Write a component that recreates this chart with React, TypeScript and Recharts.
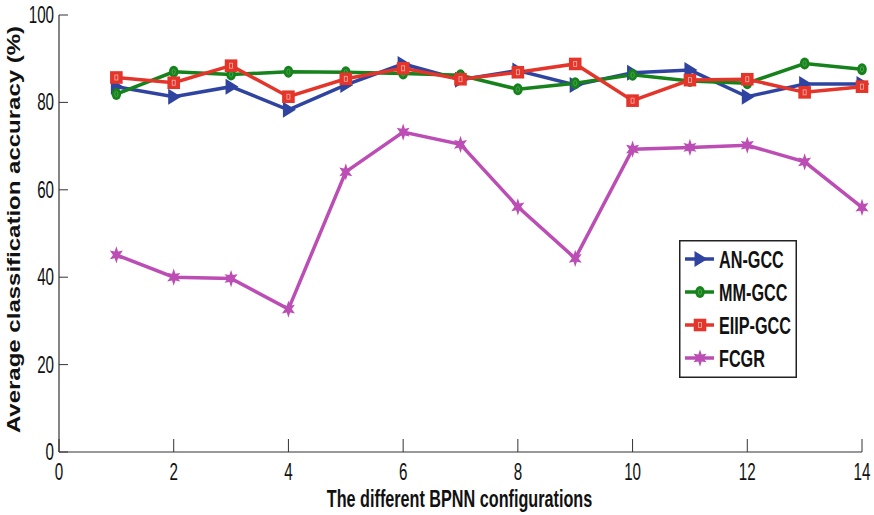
import { Label, Line, LineChart, XAxis, YAxis } from "recharts";

const CONFIGS = [1, 2, 3, 4, 5, 6, 7, 8, 9, 10, 11, 12, 13, 14];
const AN_GCC = [83.6, 81.3, 83.6, 78.3, 84.0, 88.8, 85.2, 87.3, 84.0, 86.8, 87.4, 81.3, 84.2, 84.2];
const MM_GCC = [81.9, 87.0, 86.4, 87.0, 86.9, 86.6, 86.2, 83.0, 84.4, 86.3, 84.9, 84.4, 88.9, 87.6];
const EIIP_GCC = [85.7, 84.5, 88.4, 81.3, 85.4, 87.8, 85.3, 86.9, 88.8, 80.4, 85.1, 85.3, 82.3, 83.6];
const FCGR = [45.1, 40.0, 39.7, 32.7, 64.1, 73.2, 70.4, 56.1, 44.3, 69.3, 69.7, 70.2, 66.4, 56.0];
const X_TICKS = [0, 2, 4, 6, 8, 10, 12, 14];
const Y_TICKS = [0, 20, 40, 60, 80, 100];

const BLUE = "#2f44a0";
const GREEN = "#15821b";
const RED = "#e4352b";
const MAGENTA = "#bb4db4";
const AXIS = "#333";
const FONT = "'Liberation Sans', Arial, sans-serif";

const data = CONFIGS.map((c, i) => ({
  x: c,
  an: AN_GCC[i],
  mm: MM_GCC[i],
  eiip: EIIP_GCC[i],
  fcgr: FCGR[i],
}));

function starPath(cx: number, cy: number, ro: number, ri: number) {
  const pts: string[] = [];
  for (let k = 0; k < 12; k++) {
    const r = k % 2 === 0 ? ro : ri;
    const a = (Math.PI / 6) * k - Math.PI / 2;
    pts.push(`${(cx + r * Math.cos(a)).toFixed(2)},${(cy + r * Math.sin(a) * 1.15).toFixed(2)}`);
  }
  return "M" + pts.join("L") + "Z";
}

function Marker({ kind, cx, cy }: { kind: string; cx: number; cy: number }) {
  if (kind === "an")
    return <polygon points={`${cx - 5.5},${cy - 8} ${cx + 7.5},${cy} ${cx - 5.5},${cy + 8}`} fill={BLUE} />;
  if (kind === "mm")
    return (
      <g>
        <ellipse cx={cx} cy={cy} rx={4.8} ry={6} fill={GREEN} />
        <ellipse cx={cx} cy={cy} rx={1.6} ry={2.6} fill="none" stroke="#5aa85a" strokeWidth={0.8} />
      </g>
    );
  if (kind === "eiip")
    return (
      <g>
        <rect x={cx - 6.3} y={cy - 6.3} width={12.6} height={12.6} fill={RED} />
        <rect x={cx - 1.5} y={cy - 2.5} width={3} height={5} fill="none" stroke="#f6b3aa" strokeWidth={0.8} />
      </g>
    );
  return <path d={starPath(cx, cy, 7.5, 3.4)} fill={MAGENTA} />;
}

const dotFor = (kind: string) => (p: any) => (
  <Marker key={`${kind}-${p.index}`} kind={kind} cx={p.cx} cy={p.cy} />
);

function XTick({ x, y, payload }: any) {
  return (
    <g>
      <line x1={x} y1={y} x2={x} y2={y - 13} stroke={AXIS} strokeWidth={1} />
      <text
        transform={`translate(${x},${y + 28}) scale(0.66,1)`}
        textAnchor="middle"
        fontFamily={FONT}
        fontSize={23}
        fill="#111"
      >
        {payload.value}
      </text>
    </g>
  );
}

function YTick({ x, y, payload }: any) {
  return (
    <g>
      <line x1={x} y1={y} x2={x + 9} y2={y} stroke={AXIS} strokeWidth={1} />
      <text
        transform={`translate(${x - 5},${y + 8}) scale(0.66,1)`}
        textAnchor="end"
        fontFamily={FONT}
        fontSize={23}
        fill="#111"
      >
        {payload.value}
      </text>
    </g>
  );
}

const LEGEND_ITEMS = [
  { kind: "an", label: "AN-GCC", color: BLUE },
  { kind: "mm", label: "MM-GCC", color: GREEN },
  { kind: "eiip", label: "EIIP-GCC", color: RED },
  { kind: "fcgr", label: "FCGR", color: MAGENTA },
];

function LegendBox() {
  return (
    <svg width={118} height={138} style={{ position: "absolute", left: 679, top: 240, display: "block" }}>
      <rect x={0.75} y={0.75} width={116.5} height={136.5} fill="#fff" stroke="#222" strokeWidth={1.5} />
      {LEGEND_ITEMS.map((it, i) => {
        const cy = 19 + i * 33;
        return (
          <g key={it.kind}>
            <line x1={6} y1={cy} x2={35} y2={cy} stroke={it.color} strokeWidth={3.5} />
            <Marker kind={it.kind} cx={21} cy={cy} />
            <text
              transform={`translate(40,${cy + 8.5}) scale(0.72,1.05)`}
              fontFamily={FONT}
              fontWeight="bold"
              fontSize={22.5}
              fill="#111"
            >
              {it.label}
            </text>
          </g>
        );
      })}
    </svg>
  );
}

export default function App() {
  return (
    <div style={{ position: "absolute", left: 0, top: 0, width: 874, height: 515, background: "#fff" }}>
      <LineChart width={874} height={515} data={data} margin={{ top: 15, right: 12, left: 0, bottom: 0 }}>
        <XAxis
          dataKey="x"
          type="number"
          domain={[0, 14]}
          ticks={X_TICKS}
          height={63}
          tickSize={0}
          tickMargin={0}
          tickLine={false}
          axisLine={{ stroke: AXIS, strokeWidth: 1.2 }}
          tick={<XTick />}
        >
          <Label
            content={({ viewBox }: any) => (
              <text
                transform={`translate(${viewBox.x + viewBox.width / 2 - 1},${viewBox.y + 55}) scale(0.72,1.06)`}
                textAnchor="middle"
                fontFamily={FONT}
                fontWeight="bold"
                fontSize={22.5}
                fill="#111"
              >
                The different BPNN configurations
              </text>
            )}
          />
        </XAxis>
        <YAxis
          type="number"
          domain={[0, 100]}
          ticks={Y_TICKS}
          width={59}
          tickSize={0}
          tickMargin={0}
          tickLine={false}
          axisLine={{ stroke: AXIS, strokeWidth: 1.2 }}
          tick={<YTick />}
        >
          <Label
            content={({ viewBox }: any) => (
              <text
                transform={`translate(20,${viewBox.y + viewBox.height / 2 - 4}) rotate(-90) scale(1,0.78)`}
                textAnchor="middle"
                fontFamily={FONT}
                fontWeight="bold"
                fontSize={24}
                fill="#111"
              >
                Average classification accuracy (%)
              </text>
            )}
          />
        </YAxis>
        <Line dataKey="an" name="AN-GCC" stroke={BLUE} strokeWidth={3.5} dot={dotFor("an")} isAnimationActive={false} />
        <Line dataKey="mm" name="MM-GCC" stroke={GREEN} strokeWidth={3.5} dot={dotFor("mm")} isAnimationActive={false} />
        <Line dataKey="eiip" name="EIIP-GCC" stroke={RED} strokeWidth={3.5} dot={dotFor("eiip")} isAnimationActive={false} />
        <Line dataKey="fcgr" name="FCGR" stroke={MAGENTA} strokeWidth={3.5} dot={dotFor("fcgr")} isAnimationActive={false} />
      </LineChart>
      <LegendBox />
    </div>
  );
}
